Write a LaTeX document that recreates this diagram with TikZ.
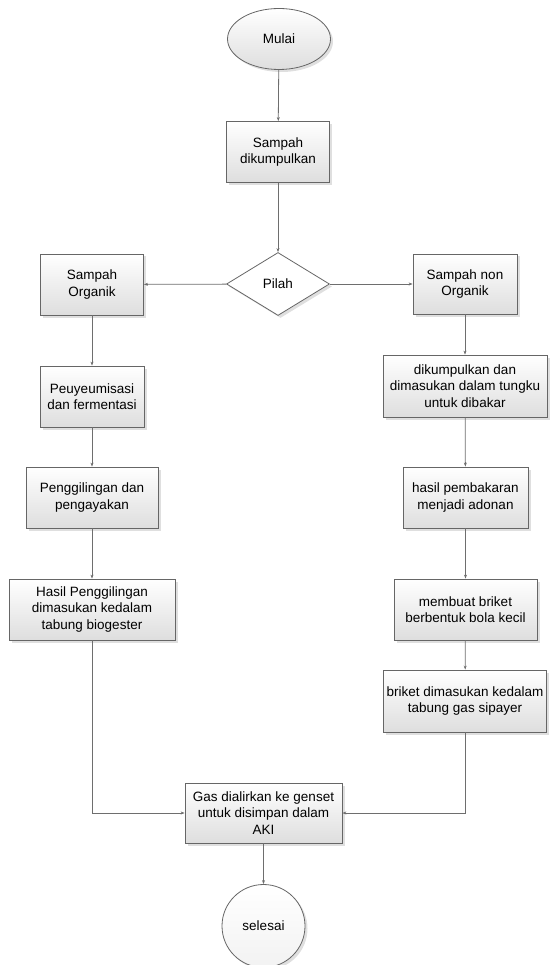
\documentclass[tikz,border=0pt]{standalone}
\usepackage{fontspec}
\setmainfont{Liberation Sans}
\usetikzlibrary{shapes.geometric,shadows,arrows.meta}
\definecolor{edgec}{HTML}{666666}
\definecolor{linec}{HTML}{6E6E6E}
\tikzset{
  base/.style={draw=edgec, line width=0.8pt, align=center, inner sep=0pt,
    font=\fontsize{13.5}{16.5}\selectfont,
    drop shadow={shadow xshift=2.5pt, shadow yshift=-2.5pt, opacity=0.25, fill=black!50}},
  box/.style={base, rectangle, top color=white, bottom color=black!13},
  oval/.style={base, ellipse, top color=white, bottom color=black!13},
  circ/.style={base, circle, top color=white, bottom color=black!5},
  dia/.style={base, diamond, fill=white},
  conn/.style={draw=linec, line width=0.8pt, -{Stealth[length=4pt,width=3pt]}},
}
\begin{document}
\begin{tikzpicture}[x=1pt,y=-1pt]
\useasboundingbox (0,0) rectangle (555,965);
\node[oval, minimum width=103pt, minimum height=61pt] (mulai) at (279,39) {Mulai};
\node[box, minimum width=103pt, minimum height=61pt] (kumpul) at (278,152) {Sampah\\dikumpulkan};
\node[dia, minimum width=103pt, minimum height=63pt, aspect=1.63] (pilah) at (278,284) {Pilah};
\node[box, minimum width=103pt, minimum height=61pt] (org) at (92,284.5) {Sampah\\Organik};
\node[box, minimum width=104pt, minimum height=60pt] (non) at (465,284) {Sampah non\\Organik};
\node[box, minimum width=104pt, minimum height=61pt] (peu) at (92,396.5) {Peuyeumisasi\\dan fermentasi};
\node[box, minimum width=132pt, minimum height=61pt] (peng) at (92,497.5) {Penggilingan dan\\pengayakan};
\node[box, minimum width=166pt, minimum height=61pt] (hasil) at (92,609.5) {Hasil Penggilingan\\dimasukan kedalam\\tabung biogester};
\node[box, minimum width=164pt, minimum height=62pt] (tungku) at (465,386) {dikumpulkan dan\\dimasukan dalam tungku\\untuk dibakar};
\node[box, minimum width=125pt, minimum height=61pt] (adonan) at (465.5,497.5) {hasil pembakaran\\menjadi adonan};
\node[box, minimum width=143pt, minimum height=61pt] (briket) at (465.5,609.5) {membuat briket\\berbentuk bola kecil};
\node[box, minimum width=163pt, minimum height=62pt] (gas) at (465,701) {briket dimasukan kedalam\\tabung gas sipayer};
\node[box, minimum width=157pt, minimum height=60pt] (genset) at (263.5,813) {Gas dialirkan ke genset\\untuk disimpan dalam\\AKI};
\node[circ, minimum size=83pt] (selesai) at (263.5,926) {selesai};
\draw[conn] (mulai) -- (kumpul);
\draw[conn] (kumpul) -- (pilah);
\draw[conn] (pilah) -- (org);
\draw[conn] (pilah) -- (non);
\draw[conn] (org) -- (peu);
\draw[conn] (peu) -- (peng);
\draw[conn] (peng) -- (hasil);
\draw[conn] (non) -- (tungku);
\draw[conn] (tungku) -- (adonan);
\draw[conn] (adonan) -- (briket);
\draw[conn] (briket) -- (gas);
\draw[conn] (hasil.south) |- (genset.west);
\draw[conn] (gas.south) |- (genset.east);
\draw[conn] (genset) -- (selesai);
\end{tikzpicture}
\end{document}
